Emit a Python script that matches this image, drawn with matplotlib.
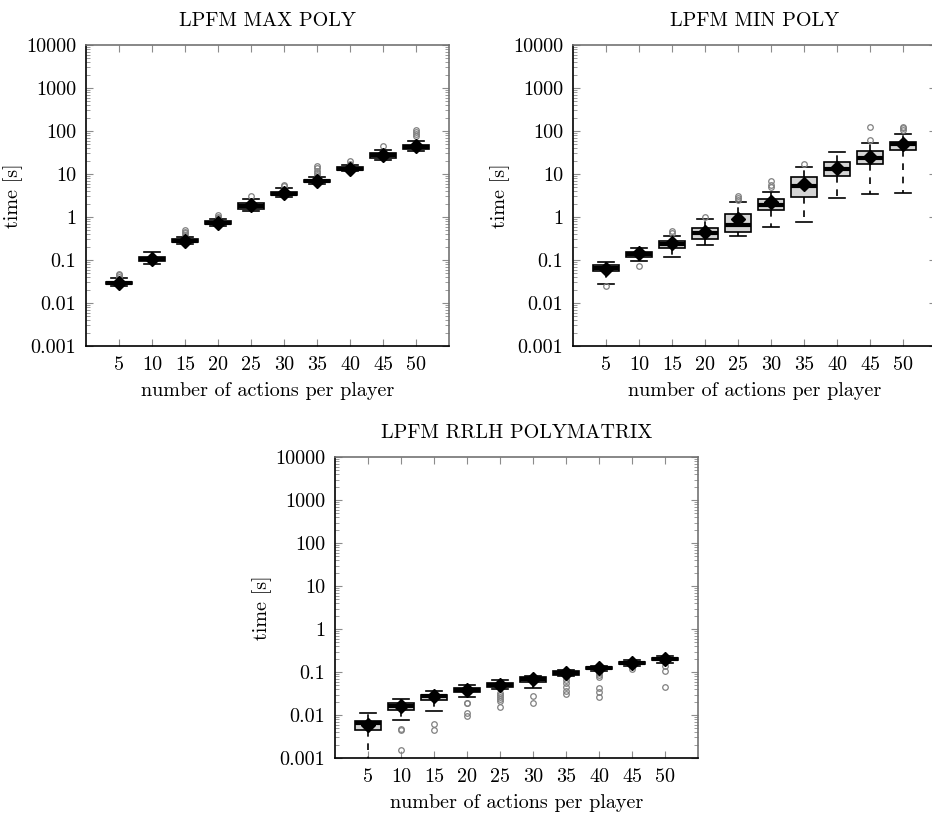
import matplotlib
matplotlib.use("Agg")
import matplotlib.pyplot as plt
from matplotlib.ticker import FixedLocator, FixedFormatter, LogLocator, NullFormatter

plt.rcParams['font.family'] = ['cmr10', 'DejaVu Serif']
plt.rcParams['axes.unicode_minus'] = False
plt.rcParams['axes.formatter.use_mathtext'] = True

actions = [5, 10, 15, 20, 25, 30, 35, 40, 45, 50]
ytick_vals = [0.001, 0.01, 0.1, 1, 10, 100, 1000, 10000]
ytick_labels = ['0.001', '0.01', '0.1', '1', '10', '100', '1000', '10000']

# LPFM MAX POLY
max_med = [0.029, 0.104, 0.28, 0.74, 1.8, 3.5, 6.9, 13.3, 27, 43]
max_q1 = [0.027, 0.095, 0.26, 0.69, 1.55, 3.2, 6.4, 12.5, 24, 39]
max_q3 = [0.031, 0.115, 0.30, 0.79, 2.1, 3.8, 7.4, 14.2, 30, 47]
max_lo = [0.025, 0.082, 0.24, 0.63, 1.4, 2.9, 5.9, 11.5, 21, 34]
max_hi = [0.038, 0.15, 0.35, 0.9, 2.6, 4.7, 8.5, 16, 36, 60]
max_mean = [0.029, 0.106, 0.28, 0.74, 1.9, 3.6, 7.0, 13.4, 27, 44]
max_fliers = [[0.041, 0.044, 0.048], [], [0.38, 0.42, 0.46, 0.5], [0.95, 1.02, 1.1],
              [3.1], [5.2, 5.7], [9.5, 10.5, 12, 13.5, 15], [17, 20], [45], [75, 85, 95, 105]]

# LPFM MIN POLY
min_med = [0.065, 0.135, 0.23, 0.43, 0.65, 1.87, 5.2, 12.8, 23.5, 49]
min_q1 = [0.056, 0.12, 0.194, 0.30, 0.44, 1.45, 2.96, 9.1, 16.8, 35.5]
min_q3 = [0.076, 0.155, 0.28, 0.55, 1.17, 2.57, 8.3, 19, 33.6, 57]
min_lo = [0.028, 0.093, 0.115, 0.22, 0.36, 0.58, 0.78, 2.8, 3.5, 3.7]
min_hi = [0.091, 0.186, 0.36, 0.89, 2.2, 3.75, 14.4, 32, 52, 85]
min_mean = [0.063, 0.145, 0.25, 0.45, 0.9, 2.25, 5.8, 13.7, 25, 50]
min_fliers = [[0.025], [0.074], [0.42, 0.47], [1.02], [2.5, 2.8, 3.0],
              [5.0, 5.5, 7.0], [16.8], [], [62, 123], [108, 115, 125]]

# LPFM RRLH POLYMATRIX
rr_med = [0.0066, 0.016, 0.027, 0.039, 0.051, 0.067, 0.095, 0.123, 0.162, 0.20]
rr_q1 = [0.0045, 0.013, 0.0224, 0.034, 0.046, 0.059, 0.087, 0.115, 0.152, 0.19]
rr_q3 = [0.0074, 0.0187, 0.030, 0.0425, 0.056, 0.075, 0.104, 0.132, 0.172, 0.21]
rr_lo = [0.0007, 0.0076, 0.0126, 0.026, 0.040, 0.042, 0.082, 0.105, 0.135, 0.165]
rr_hi = [0.011, 0.0233, 0.037, 0.049, 0.065, 0.082, 0.11, 0.14, 0.19, 0.23]
rr_mean = [0.006, 0.016, 0.027, 0.038, 0.050, 0.068, 0.095, 0.125, 0.162, 0.20]
rr_fliers = [[], [0.0048, 0.0046, 0.00155], [0.0062, 0.0045],
             [0.0194, 0.019, 0.0113, 0.0095],
             [0.033, 0.029, 0.026, 0.024, 0.021, 0.0156], [0.0277, 0.0187],
             [0.075, 0.065, 0.055, 0.045, 0.037, 0.031],
             [0.095, 0.085, 0.075, 0.042, 0.035, 0.026],
             [0.12], [0.14, 0.105, 0.044]]


def draw_panel(ax, title, med, q1, q3, lo, hi, mean, fliers):
    stats = []
    for i in range(len(actions)):
        stats.append(dict(med=med[i], q1=q1[i], q3=q3[i], whislo=lo[i],
                          whishi=hi[i], mean=mean[i], fliers=fliers[i]))
    ax.bxp(stats, positions=actions, widths=4, patch_artist=True,
           showmeans=True, showfliers=True,
           boxprops=dict(facecolor='#d4d4d4', edgecolor='black', linewidth=1.2),
           medianprops=dict(color='black', linewidth=3),
           whiskerprops=dict(color='black', linewidth=1.2, linestyle=(0, (4, 4))),
           capprops=dict(color='black', linewidth=1.2),
           capwidths=2.4,
           meanprops=dict(marker='D', markerfacecolor='black',
                          markeredgecolor='black', markersize=7.5),
           flierprops=dict(marker='o', markerfacecolor='none',
                           markeredgecolor='#808080', markersize=4,
                           markeredgewidth=0.9))
    ax.set_yscale('log')
    ax.set_ylim(0.001, 10000)
    ax.set_xlim(0, 55)
    ax.yaxis.set_major_locator(FixedLocator(ytick_vals))
    ax.yaxis.set_major_formatter(FixedFormatter(ytick_labels))
    ax.yaxis.set_minor_locator(LogLocator(base=10, subs=range(2, 10), numticks=20))
    ax.yaxis.set_minor_formatter(NullFormatter())
    ax.set_xticks(actions)
    ax.set_xticklabels([str(a) for a in actions])
    ax.tick_params(which='both', direction='in', top=True, right=True,
                   color='0.55', labelsize=14.5, pad=7)
    ax.tick_params(which='major', length=5, width=0.8)
    ax.tick_params(which='minor', length=3, width=0.6)
    for side in ['left', 'bottom']:
        ax.spines[side].set_color('black')
        ax.spines[side].set_linewidth(1.2)
    for side in ['top', 'right']:
        ax.spines[side].set_color('0.45')
        ax.spines[side].set_linewidth(1.2)
    ax.set_title(title, fontsize=14.5, pad=14)
    ax.set_xlabel('number of actions per player', fontsize=14.5, labelpad=6)
    ax.set_ylabel('time [s]', fontsize=14.5, labelpad=2)


fig = plt.figure(figsize=(9.32, 8.17), dpi=100)
ax1 = fig.add_axes([0.0923, 0.5765, 0.3895, 0.3684])
ax2 = fig.add_axes([0.6148, 0.5765, 0.3895, 0.3684])
ax3 = fig.add_axes([0.3594, 0.0722, 0.3895, 0.3684])

draw_panel(ax1, 'LPFM MAX POLY', max_med, max_q1, max_q3, max_lo, max_hi, max_mean, max_fliers)
draw_panel(ax2, 'LPFM MIN POLY', min_med, min_q1, min_q3, min_lo, min_hi, min_mean, min_fliers)
draw_panel(ax3, 'LPFM RRLH POLYMATRIX', rr_med, rr_q1, rr_q3, rr_lo, rr_hi, rr_mean, rr_fliers)

fig.savefig('out.png', dpi=100)
